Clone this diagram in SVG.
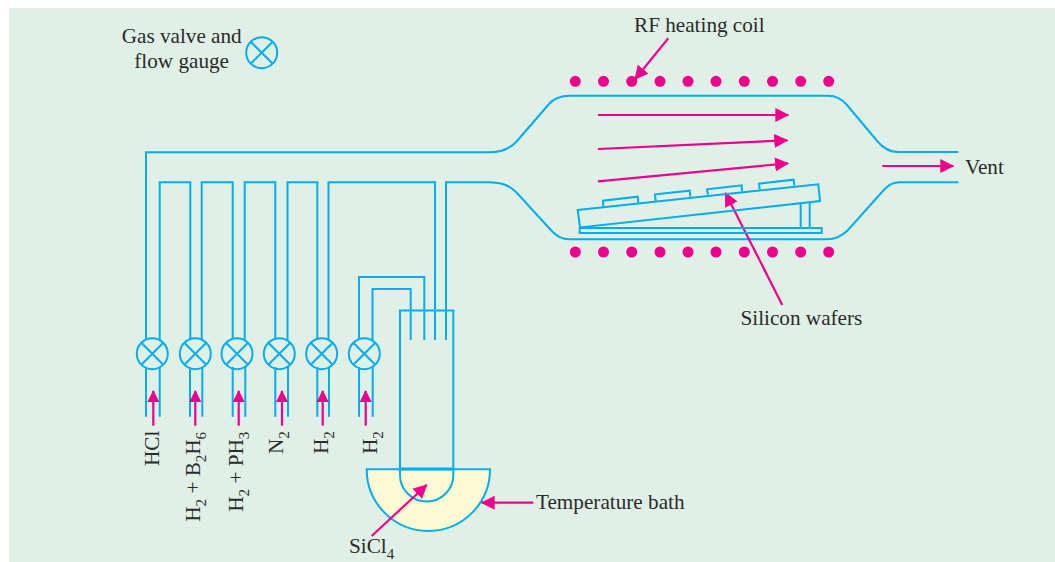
<svg xmlns="http://www.w3.org/2000/svg" width="1055" height="562" viewBox="0 0 1055 562">
<style>
.p{fill:none;stroke:#00AEEF;stroke-width:2}
.a{fill:none;stroke:#EC008C;stroke-width:2.2}
.big{marker-end:url(#head)}
.small{marker-end:url(#shead)}
.d{fill:#EC008C}
text{font-family:"Liberation Serif","Times New Roman",serif;font-size:21.2px;fill:#2B2B2B}
.sub{font-size:15px}
</style>
<defs>
<marker id="head" markerUnits="userSpaceOnUse" markerWidth="15" markerHeight="15" viewBox="0 0 15 15" refX="13" refY="7.5" orient="auto"><path d="M0 0.5L14 7.5L0 14.5z" fill="#EC008C"/></marker>
<marker id="shead" markerUnits="userSpaceOnUse" markerWidth="13" markerHeight="13" viewBox="0 0 13 13" refX="11" refY="6.5" orient="auto"><path d="M0 0.5L12 6.5L0 12.5z" fill="#EC008C"/></marker>
<g id="valve"><circle r="15.5" class="p" fill="none"/><path class="p" d="M-11 -11L11 11M-11 11L11 -11"/></g>
</defs>
<rect id="background" x="9" y="8" width="1046" height="554" fill="#E1F0E6"/>

<g id="bath"><path d="M366.7 469.3H490A61.6 61.6 0 0 1 366.7 469.3Z" fill="#FDF9D3" stroke="#00AEEF" stroke-width="2"/></g>
<g id="bubbler">
<path class="p" d="M400 310.5H453.3V475A26.65 26.65 0 0 1 400 475Z"/>
<path d="M400 469H453.3" fill="none" stroke="#00AEEF" stroke-width="3.2"/>
</g>

<g id="connectors">
<path class="p" d="M146 340V152.3H488C503 152.3 511 148 517 141L549 104C554 98 560 95.7 570 95.7H828C836 95.7 842 99 847 105L878 142C884 149 890 152 898 152H958.3"/>
<path class="p" d="M446 340V182.3H488C503 182.3 510 186 517 193L549 228C556 236 561 239.3 570 239.3H827C836 239.3 842 236 848 230L882 192C888 185 892 182.3 900 182.3H958.3"/>
<path class="p" d="M159.7 340V182.3H190.3V340M201.7 340V182.3H232.7V340M244.7 340V182.3H275.3V340M287.5 340V182.3H317.3V340M328.5 340V182.3H435V340M359 340V277H424.3V340M372.5 340V289H410.7V340"/>
<path class="p" d="M146 367V416.7M159.7 367V416.7M190 367V416.7M202.3 367V416.7M232.7 367V416.7M245.3 367V416.7M275.3 367V416.7M288 367V416.7M317.3 367V416.7M329 367V416.7M359 367V416.7M372.7 367V416.7"/>
<path class="a small" d="M153.3 425.7V391"/>
<path class="a small" d="M195.3 425.7V391"/>
<path class="a small" d="M238.7 425.7V391"/>
<path class="a small" d="M282 425.7V391"/>
<path class="a small" d="M322.7 425.7V391"/>
<path class="a small" d="M365.7 425.7V391"/>
<path class="a big" d="M598 115H788.3"/>
<path class="a big" d="M598 149L787.3 140.3"/>
<path class="a big" d="M598 181.3L788 163.3"/>
<path class="a big" d="M882.3 166H953.3"/>
<path class="a big" d="M668.3 38.3L635 79.3"/>
<path class="a big" d="M782.3 305L725.5 193"/>
<path class="a big" d="M533.3 502.7H481.7"/>
<path class="a big" d="M371.7 536L426.7 485"/>
</g>

<g id="legend-valve"><use href="#valve" x="261.7" y="52.7"/></g>
<g id="valve-hcl"><use href="#valve" x="152.3" y="353.7"/></g>
<g id="valve-b2h6"><use href="#valve" x="195.3" y="353.7"/></g>
<g id="valve-ph3"><use href="#valve" x="237" y="353.7"/></g>
<g id="valve-n2"><use href="#valve" x="279.3" y="353.7"/></g>
<g id="valve-h2a"><use href="#valve" x="321.7" y="353.7"/></g>
<g id="valve-h2b"><use href="#valve" x="364.3" y="353.7"/></g>

<g id="coil" class="d">
<circle cx="575.3" cy="81.3" r="5.5"/><circle cx="603.5" cy="81.3" r="5.5"/><circle cx="631.7" cy="81.3" r="5.5"/><circle cx="660" cy="81.3" r="5.5"/><circle cx="688" cy="81.3" r="5.5"/><circle cx="716" cy="81.3" r="5.5"/><circle cx="744.3" cy="81.3" r="5.5"/><circle cx="772.5" cy="81.3" r="5.5"/><circle cx="800.7" cy="81.3" r="5.5"/><circle cx="828.7" cy="81.3" r="5.5"/>
<circle cx="575.3" cy="252" r="5.5"/><circle cx="603.5" cy="252" r="5.5"/><circle cx="631.7" cy="252" r="5.5"/><circle cx="660" cy="252" r="5.5"/><circle cx="688" cy="252" r="5.5"/><circle cx="716" cy="252" r="5.5"/><circle cx="744.3" cy="252" r="5.5"/><circle cx="772.5" cy="252" r="5.5"/><circle cx="800.7" cy="252" r="5.5"/><circle cx="828.7" cy="252" r="5.5"/>
</g>

<g id="susceptor">
<path class="p" d="M577.7 210L818.3 184.3L820 201L580 227.5Z"/>
<path class="p" d="M800.7 203V228M809.7 202V228"/>
<path class="p" d="M579.7 228H821.7V233H579.7Z"/>
<path class="p" d="M603.3 206.5L603 200.7L637.7 196.7L638.3 202.7"/>
<path class="p" d="M655.7 201L655 194.3L689.7 190.7L690.3 196.7"/>
<path class="p" d="M708 194.7L707 189.3L741.7 185.3L742 191.3"/>
<path class="p" d="M759.7 189.3L759 183.7L793.7 179.7L794.3 185.7"/>
</g>

<g id="labels">
<text x="121.7" y="42.7">Gas valve and</text>
<text x="134.3" y="67.7">flow gauge</text>
<text x="634" y="32">RF heating coil</text>
<text x="965" y="174.3">Vent</text>
<text x="740.5" y="325">Silicon wafers</text>
<text x="536" y="509.3">Temperature bath</text>
<text x="349" y="553.3">SiCl<tspan class="sub" dy="6">4</tspan></text>
<text transform="translate(158.7 466) rotate(-90)">HCl</text>
<text transform="translate(200 521.7) rotate(-90)">H<tspan class="sub" dy="6">2</tspan><tspan dy="-6"> + B</tspan><tspan class="sub" dy="6">2</tspan><tspan dy="-6">H</tspan><tspan class="sub" dy="6">6</tspan></text>
<text transform="translate(242.7 511.7) rotate(-90)">H<tspan class="sub" dy="6">2</tspan><tspan dy="-6"> + PH</tspan><tspan class="sub" dy="6">3</tspan></text>
<text transform="translate(283.3 454) rotate(-90)">N<tspan class="sub" dy="6">2</tspan></text>
<text transform="translate(328.3 454) rotate(-90)">H<tspan class="sub" dy="6">2</tspan></text>
<text transform="translate(376.7 454) rotate(-90)">H<tspan class="sub" dy="6">2</tspan></text>
</g>
</svg>
